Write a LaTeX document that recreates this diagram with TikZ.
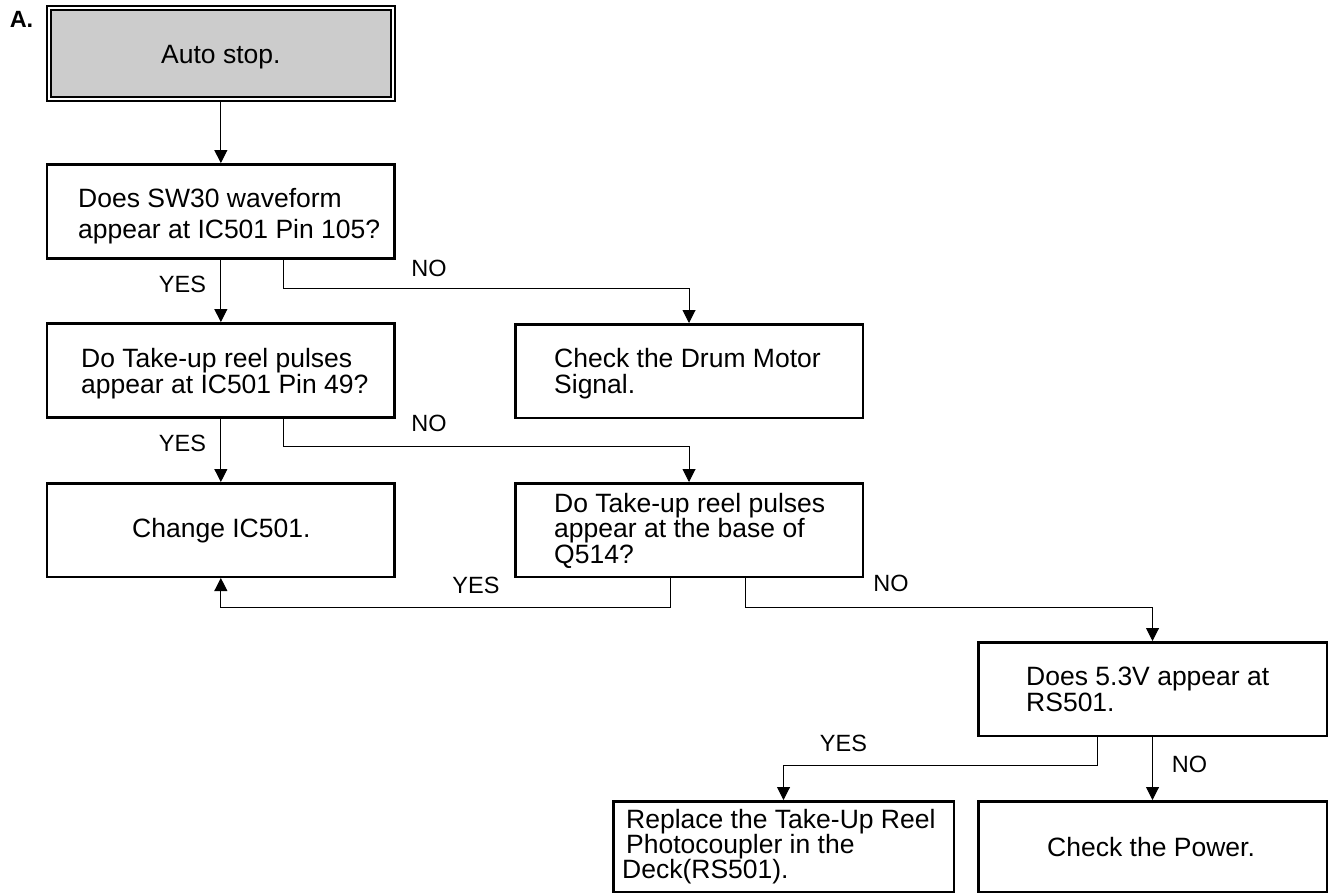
\documentclass[tikz,border=0pt]{standalone}
\usepackage{fontspec}
\setmainfont{Liberation Sans}
\usetikzlibrary{arrows.meta,calc}
\begin{document}
\begin{tikzpicture}[x=1pt,y=-1pt,
  box/.style={draw,line width=2.5pt,inner sep=0pt},
  txt/.style={align=left,inner sep=0pt,anchor=base west,font=\fontsize{26.5}{26}\selectfont},
  conn/.style={line width=1pt,-{Triangle[length=13pt,width=13pt]}},
  lbl/.style={font=\fontsize{23.5}{23.5}\selectfont,inner sep=0pt}]
\useasboundingbox (0,0) rectangle (1331,895);
\node[font=\fontsize{23.5}{23.5}\selectfont\bfseries,inner sep=0pt] (A) at (21.5,19) {A.};
% boxes
\node[draw,line width=2.4pt,double,double distance=1.6pt,fill=gray!40,
      minimum width=343.9pt,minimum height=90.6pt,inner sep=0pt] (b1) at (220.85,53.5) {};
\node[box,minimum width=347.7pt,minimum height=94.4pt] (b2) at (220.85,211.5) {};
\node[box,minimum width=347.7pt,minimum height=94.4pt] (b3) at (220.85,370.5) {};
\node[box,minimum width=347.5pt,minimum height=93.5pt] (drum) at (689,371) {};
\node[box,minimum width=347.7pt,minimum height=93.5pt] (chg) at (220.85,530) {};
\node[box,minimum width=347.5pt,minimum height=93.5pt] (q) at (689,530) {};
\node[box,minimum width=348.5pt,minimum height=93.5pt] (rs) at (1152.5,689) {};
\node[box,minimum width=340.5pt,minimum height=90.5pt] (rep) at (783.5,846.5) {};
\node[box,minimum width=348.5pt,minimum height=90.5pt] (pow) at (1152.5,846.5) {};
% texts (anchor = baseline of the last line)
\node[txt] (t1) at (161,63) {Auto stop.};
\node[txt,font=\fontsize{26.5}{31}\selectfont] (t2) at (78,238) {Does SW30 waveform\\appear at IC501 Pin 105?};
\node[txt] (t3) at (81,393) {Do Take-up reel pulses\\appear at IC501 Pin 49?};
\node[txt] (tdrum) at (554,393) {Check the Drum Motor\\Signal.};
\node[txt] (tchg) at (132,537) {Change IC501.};
\node[txt,font=\fontsize{26.5}{25.5}\selectfont] (tq) at (554,563) {Do Take-up reel pulses\\appear at the base of\\Q514?};
\node[txt] (trs) at (1026,711) {Does 5.3V appear at\\RS501.};
\node[txt,font=\fontsize{26.5}{25}\selectfont] (trep) at (626,878) {Replace the Take-Up Reel\\Photocoupler in the\\\hspace*{-4pt}Deck(RS501).};
\node[txt] (tpow) at (1047,856) {Check the Power.};
% connectors
\draw[conn] (b1.south) -- (b2.north);
\draw[conn] (b2.south) -- (b3.north);
\draw[conn] ($(b2.south west)+(237.25,0)$) -- ++(0,29) -| (drum.north);
\draw[conn] (b3.south) -- (chg.north);
\draw[conn] ($(b3.south west)+(237.25,0)$) -- ++(0,28) -| (q.north);
\draw[conn] ($(q.south west)+(156,0)$) -- ++(0,29) -| (chg.south);
\draw[conn] ($(q.south west)+(231,0)$) -- ++(0,29) -| (rs.north);
\draw[conn] ($(rs.south west)+(120,0)$) -- ++(0,28) -| (rep.north);
\draw[conn] (rs.south) -- (pow.north);
% labels
\node[lbl] (y1) at (182.5,284) {YES};
\node[lbl] (n1) at (429,268.5) {NO};
\node[lbl] (y2) at (182.5,443.5) {YES};
\node[lbl] (n2) at (429,423.5) {NO};
\node[lbl] (y3) at (476,585) {YES};
\node[lbl] (n3) at (891,583.5) {NO};
\node[lbl] (y4) at (843.5,743.5) {YES};
\node[lbl] (n4) at (1189.5,764.5) {NO};
\end{tikzpicture}
\end{document}
